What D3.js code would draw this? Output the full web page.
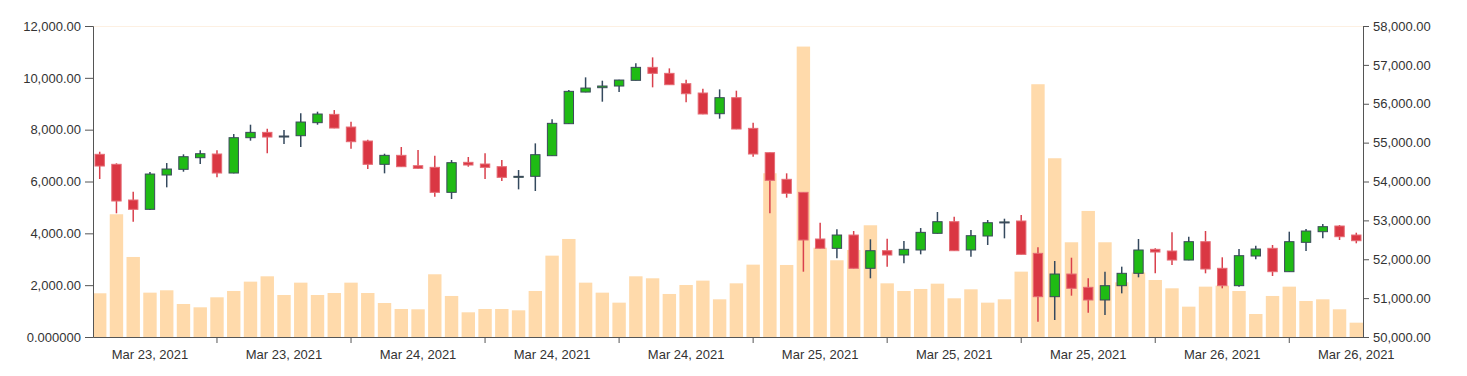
<!DOCTYPE html>
<html>
<head>
    <meta charset="utf-8">
    <script src="https://cdnjs.cloudflare.com/ajax/libs/d3/7.8.5/d3.min.js"></script>
    <title>Candles</title>
    <style>
    body { margin: 0; background: #fff; }
    .axis text { font-family: "Liberation Sans", Arial, sans-serif; font-size: 13px; fill: #333; }
    .axis path, .axis line { stroke: #555; }
    </style>
</head>
<body>
<div id="container"></div>
<script>
// hourly candles
var times = [
 "2021-03-23T08:00","2021-03-23T09:00","2021-03-23T10:00","2021-03-23T11:00","2021-03-23T12:00","2021-03-23T13:00","2021-03-23T14:00","2021-03-23T15:00",
 "2021-03-23T16:00","2021-03-23T17:00","2021-03-23T18:00","2021-03-23T19:00","2021-03-23T20:00","2021-03-23T21:00","2021-03-23T22:00","2021-03-23T23:00",
 "2021-03-24T00:00","2021-03-24T01:00","2021-03-24T02:00","2021-03-24T03:00","2021-03-24T04:00","2021-03-24T05:00","2021-03-24T06:00","2021-03-24T07:00",
 "2021-03-24T08:00","2021-03-24T09:00","2021-03-24T10:00","2021-03-24T11:00","2021-03-24T12:00","2021-03-24T13:00","2021-03-24T14:00","2021-03-24T15:00",
 "2021-03-24T16:00","2021-03-24T17:00","2021-03-24T18:00","2021-03-24T19:00","2021-03-24T20:00","2021-03-24T21:00","2021-03-24T22:00","2021-03-24T23:00",
 "2021-03-25T00:00","2021-03-25T01:00","2021-03-25T02:00","2021-03-25T03:00","2021-03-25T04:00","2021-03-25T05:00","2021-03-25T06:00","2021-03-25T07:00",
 "2021-03-25T08:00","2021-03-25T09:00","2021-03-25T10:00","2021-03-25T11:00","2021-03-25T12:00","2021-03-25T13:00","2021-03-25T14:00","2021-03-25T15:00",
 "2021-03-25T16:00","2021-03-25T17:00","2021-03-25T18:00","2021-03-25T19:00","2021-03-25T20:00","2021-03-25T21:00","2021-03-25T22:00","2021-03-25T23:00",
 "2021-03-26T00:00","2021-03-26T01:00","2021-03-26T02:00","2021-03-26T03:00","2021-03-26T04:00","2021-03-26T05:00","2021-03-26T06:00","2021-03-26T07:00",
 "2021-03-26T08:00","2021-03-26T09:00","2021-03-26T10:00","2021-03-26T11:00"
];
var open = [
 54699,54442,53524,53284,54167,54313,54612,54707,54218,55127,
 55264,55170,55178,55513,55727,55401,55041,54442,54673,54406,
 54364,53721,54493,54450,54381,54133,54133,54664,55487,56301,
 56413,56456,56602,56936,56782,56516,56276,55744,56156,55367,
 54741,54056,53721,52521,52281,52623,51767,52220,52109,52238,
 52667,52966,52238,52598,52960,52984,52152,51037,51620,51278,
 50952,51320,51638,52255,52212,51980,52452,51767,51320,52083,
 52281,51680,52435,52709,52855,52623
];
var high = [
 54766,54468,53737,54244,54475,54699,54802,54802,55221,55461,
 55358,55324,55753,55796,55838,55538,55075,54715,54887,54810,
 54664,54552,54630,54724,54552,54295,54981,55599,56353,56679,
 56593,56615,57039,57193,56910,56619,56387,56370,56336,55513,
 54745,54210,53725,52940,52770,52726,52513,52529,52469,52803,
 53215,53095,52752,53009,53043,53138,52307,51955,52040,51510,
 51680,51809,52521,52281,52692,52580,52726,52050,52263,52349,
 52366,52709,52778,52906,52880,52683
];
var low = [
 54064,53182,52966,53270,53850,54252,54450,54107,54210,55050,
 54724,54964,54887,55461,55370,54844,54321,54210,54375,54330,
 53609,53549,54381,54064,54012,53798,53755,54660,55480,56295,
 56053,56301,56600,56422,56485,56036,55730,55616,55345,54638,
 53182,53584,51680,52275,52024,51760,51510,51809,51895,52126,
 52660,52215,52066,52366,52538,52120,50394,50437,51063,50626,
 50566,51123,51535,51638,51852,51975,51638,51252,51294,51998,
 51569,51675,52212,52538,52495,52410
];
var close = [
 54398,53498,53284,54192,54321,54638,54715,54218,55127,55264,
 55144,55170,55530,55736,55375,55024,54442,54673,54381,54339,
 53721,54484,54424,54364,54107,54133,54690,55496,56319,56404,
 56456,56610,56936,56782,56490,56258,55736,56156,55350,54707,
 54030,53696,52495,52281,52623,51767,52220,52109,52255,52692,
 52966,52220,52606,52940,52960,52126,51037,51620,51252,50952,
 51320,51638,52238,52186,51980,52452,51749,51320,52092,52263,
 51680,52452,52726,52838,52580,52477
];
var volume = [
 1687,4736,3088,1711,1802,1274,1146,1532,1776,2136,
 2342,1621,2097,1621,1698,2097,1698,1312,1081,1069,
 2420,1583,953,1081,1081,1029,1776,3139,3783,2097,
 1711,1325,2342,2265,1660,2007,2175,1454,2071,2792,
 6318,2779,11206,3447,2960,3358,4311,2071,1776,1853,
 2058,1493,1840,1325,1454,2522,9753,6897,3655,4864,
 3655,2110,2490,2200,1879,1171,1943,1981,1776,888,
 1583,1943,1390,1454,1069,553
];
var volTicks = [0, 2000, 4000, 6000, 8000, 10000, 12000];
var priceTicks = [50000, 51000, 52000, 53000, 54000, 55000, 56000, 57000, 58000];
var labelIdx = [3, 11, 19, 27, 35, 43, 51, 59, 67, 75];
var tickIdx = [7, 15, 23, 31, 39, 47, 55, 63, 71];

var w = 1467, h = 376;
var margin = {top: 26, right: 104, bottom: 39, left: 93};
var parseT = d3.timeParse("%Y-%m-%dT%H:%M");
var fmtDate = d3.timeFormat("%b %d, %Y");
var fmt2 = d3.format(",.2f");

var svg = d3.select("#container").append("svg")
    .attr("width", w)
    .attr("height", h);

var x = d3.scaleBand()
    .domain(d3.range(times.length))
    .range([margin.left, w - margin.right])
    .paddingInner(0.2)
    .paddingOuter(0);

var yVol = d3.scaleLinear().domain([0, 12000]).range([h - margin.bottom, margin.top]);
var yPrice = d3.scaleLinear().domain([50000, 58000]).range([h - margin.bottom, margin.top]);

// top border line
svg.append("line")
    .attr("x1", margin.left).attr("x2", w - margin.right)
    .attr("y1", margin.top + 0.5).attr("y2", margin.top + 0.5)
    .attr("stroke", "#fdf0e2");

// volume bars
svg.selectAll("rect.vol")
    .data(volume)
    .enter()
    .append("rect")
    .attr("class", "vol")
    .attr("x", function(d, i) { return x(i); })
    .attr("width", x.bandwidth())
    .attr("y", function(d) { return yVol(d); })
    .attr("height", function(d) { return yVol(0) - yVol(d); })
    .attr("fill", "#ffdaab");

var candles = times.map(function(t, i) {
    return {i: i, o: open[i], h: high[i], l: low[i], c: close[i]};
});
var cw = x.bandwidth() * 0.7;
function up(d) { return d.c >= d.o; }
function cx(d) { return x(d.i) + x.bandwidth() / 2; }

// wicks
svg.selectAll("line.wick")
    .data(candles)
    .enter()
    .append("line")
    .attr("class", "wick")
    .attr("x1", cx).attr("x2", cx)
    .attr("y1", function(d) { return yPrice(d.h); })
    .attr("y2", function(d) { return yPrice(d.l); })
    .attr("stroke", function(d) { return up(d) ? "#34495e" : "#d9404c"; })
    .attr("stroke-width", 1.5);

// bodies
svg.selectAll("rect.body")
    .data(candles)
    .enter()
    .append("rect")
    .attr("class", "body")
    .attr("x", function(d) { return cx(d) - cw / 2; })
    .attr("width", cw)
    .attr("y", function(d) { return yPrice(Math.max(d.o, d.c)); })
    .attr("height", function(d) { return Math.max(1, Math.abs(yPrice(d.o) - yPrice(d.c))); })
    .attr("fill", function(d) { return up(d) ? "#1fbb14" : "#da3743"; })
    .attr("stroke", function(d) { return up(d) ? "#3b4a5a" : "#e56b74"; })
    .attr("stroke-width", 1);

// axes
svg.append("g")
    .attr("class", "axis")
    .attr("transform", "translate(" + margin.left + ",0)")
    .call(d3.axisLeft(yVol).tickValues(volTicks).tickSize(8).tickPadding(4)
        .tickFormat(function(d) { return d === 0 ? "0.000000" : fmt2(d); }));

svg.append("g")
    .attr("class", "axis")
    .attr("transform", "translate(" + (w - margin.right) + ",0)")
    .call(d3.axisRight(yPrice).tickValues(priceTicks).tickSize(6).tickPadding(4).tickFormat(fmt2));

var xAxisG = svg.append("g")
    .attr("class", "axis")
    .attr("transform", "translate(0," + (h - margin.bottom) + ")");
xAxisG.call(d3.axisBottom(x).tickValues(tickIdx).tickSize(6).tickSizeOuter(0).tickFormat(""));

svg.append("g")
    .attr("class", "axis")
    .attr("transform", "translate(0," + (h - margin.bottom) + ")")
    .call(d3.axisBottom(x).tickValues(labelIdx).tickSize(0).tickPadding(13)
        .tickFormat(function(i) { return fmtDate(parseT(times[i])); }))
    .call(function(g) { g.select(".domain").remove(); });
</script>
</body>
</html>
